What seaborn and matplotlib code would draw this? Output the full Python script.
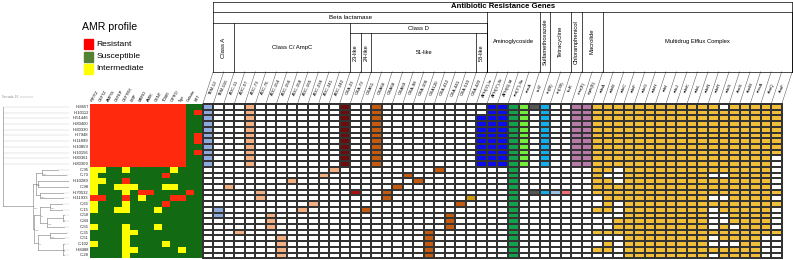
import numpy as np
import pandas as pd
import matplotlib.pyplot as plt
import seaborn as sns
from matplotlib.colors import ListedColormap
from matplotlib.patches import Rectangle

plt.rcParams["font.family"] = ["Liberation Sans", "DejaVu Sans"]

# ---- isolates (tree order, top to bottom) ----
isolates = ["H-8657", "H-10112", "H-51446", "H-80400", "H-80330", "H-7948", "H-11899",
            "H-10859", "H-10156", "H-80361", "H-80309", "C-95", "C-73", "H-10289", "C-98",
            "H-70532", "H-11933", "C-65", "C-15", "C-58", "C-84", "C-55", "C-35", "C-51",
            "C-102", "H-8488", "C-28"]

# ---- AMR phenotype: R resistant, S susceptible, I intermediate ----
drugs = ["PIP/TZ", "CEFTZ", "AMP/S", "CEFEP", "CEFTRX", "IMIP", "MERO",
         "AMIK", "GENT", "TOBR", "CIPRO", "Tige", "Colistin", "SXT"]
amr_profile = [
    "RRRRRRRRRRRRSS", "RRRRRRRRRRRRSR", "RRRRRRRRRRRRSS", "RRRRRRRRRRRRSS",
    "RRRRRRRRRRRRSS", "RRRRRRRRRRRRSR", "RRRRRRRRRRRRSR", "RRRRRRRRRRRRSS",
    "RRRRRRRRRRRRSR", "RRRRRRRRRRRRSS", "RRRRRRRRRRRRSS",
    "IISSISSSSSISSS", "ISSSSSSSSRSSSS", "IISSRSSSSSSSSS", "ISSIIISSSIISSS",
    "ISSSISRRSSSSRS", "RRSSRSISSSRRSS", "ISSSISSSSRSSSS", "ISSIISSSISSSSS",
    "SSSSSSSSSSSSSS", "SSSSSSSSSSSSSS", "ISSSISSSISSSSS", "SSSSIISSSSSSSS",
    "SSSSISSSSSSSSS", "ISSSISSSSISSSS", "SSSSIISSSSSISS", "SSSSISSSSSSSSS",
]

# ---- resistance genes ----
class_a = ["TEM-12", "TEM-116"]
class_c = ["ADC-11", "ADC-57", "ADC-73", "ADC-76", "ADC-154", "ADC-156", "ADC-158",
           "ADC-165", "ADC-238", "ADC-241", "ADC-242"]
like23 = ["OXA-23"]
like24 = ["OXA-72"]
like51 = ["OXA51", "OXA66", "OXA68", "OXA69", "OXA-98", "OXA-106", "OXA120",
          "OXA-412", "OXA-441", "OXA-510"]
like58 = ["OXA-420"]
aminoglycoside = ["APH(3')-Ia", "APH(3'')-Ib", "APH(6)-Id", "ant(3'')-IIa", "armA"]
sulfa = ["sul2"]
tetra = ["tet(B)", "tet(39)"]
chloram = ["floR"]
macrolide = ["msr(E)", "mph(E)"]
efflux = ["adeA", "adeB", "adeC", "adeF", "adeG", "adeH", "adeI", "adeJ", "adeK",
          "adeL", "adeN", "adeR", "adeS", "abeS", "abeM", "amvA", "abaQ", "abaF"]

R = list(range(11))
beta_hits = {
    "TEM-12": R, "TEM-116": [18, 19],
    "ADC-11": [14], "ADC-57": [22], "ADC-73": R, "ADC-76": [15, 16],
    "ADC-154": [19, 20, 21], "ADC-156": [23, 24, 25, 26], "ADC-158": [13],
    "ADC-165": [18], "ADC-238": [17], "ADC-241": [12], "ADC-242": [11],
    "OXA-23": R, "OXA-72": [15],
    "OXA51": [18], "OXA66": R, "OXA68": [15, 16], "OXA69": [14], "OXA-98": [12],
    "OXA-106": [13], "OXA120": [22, 23, 24, 25, 26], "OXA-412": [11],
    "OXA-441": [19, 20, 21], "OXA-510": [17], "OXA-420": [16],
}
amino_hits = {
    "APH(3')-Ia": list(range(2, 11)), "APH(3'')-Ib": R, "APH(6)-Id": R,
    "ant(3'')-IIa": list(range(27)), "armA": R,
}
other_hits = {
    "sul2": [0, 15], "tet(B)": R + [15], "tet(39)": [15], "floR": [15],
    "msr(E)": R, "mph(E)": R,
}
efflux_absent = {
    "adeA": [16, 17, 19, 20, 21, 23, 24, 26],
    "adeB": [12, 19, 20, 21, 23, 26],
    "adeC": [11, 12, 13, 17, 18, 19, 23, 24, 25, 26],
    "adeR": [12, 16, 18, 19, 20, 21, 23, 24, 26],
    "adeS": [0, 12, 16, 19, 20, 24],
    "abeS": [21, 24],
    "abaQ": [23, 24, 25, 26],
    "abaF": [9, 10, 11, 12, 13, 14, 16, 18, 19, 20, 21, 23, 24, 25, 26],
}

class_color = {
    "TEM": "#8EA9DB", "ADC": "#F4B183", "OXA23": "#6E0B0B", "OXA24": "#A80F0F",
    "OXA51": "#C55A11", "OXA58": "#D09A10",
}
gene_color = {}
for g in class_a: gene_color[g] = class_color["TEM"]
for g in class_c: gene_color[g] = class_color["ADC"]
for g in like23: gene_color[g] = class_color["OXA23"]
for g in like24: gene_color[g] = class_color["OXA24"]
for g in like51: gene_color[g] = class_color["OXA51"]
for g in like58: gene_color[g] = class_color["OXA58"]
gene_color.update({"APH(3')-Ia": "#0B0BEE", "APH(3'')-Ib": "#0B0BEE", "APH(6)-Id": "#0B0BEE",
                   "ant(3'')-IIa": "#14A04C", "armA": "#74EE3A", "sul2": "#575757",
                   "tet(B)": "#14AEEB", "tet(39)": "#9DC3E6", "floR": "#F06E74",
                   "msr(E)": "#B77AA9", "mph(E)": "#B77AA9"})
for g in efflux: gene_color[g] = "#F0BE38"

# ---- tree: leaf = (name, tip), node = (support, depth, children) ----
tree = ("", 2.7, [
    ("H-8657", 3.3), ("H-10112", 3.3), ("H-51446", 3.3), ("H-80400", 3.3),
    ("H-80330", 3.3), ("H-7948", 3.3), ("H-11899", 3.3), ("H-10859", 3.3),
    ("H-10156", 3.3), ("H-80361", 3.3), ("H-80309", 3.3),
    ("0.89", 33, [
        ("0.92", 35.5, [
            ("0.61", 42, [("C-95", 58), ("C-73", 66)]),
            ("0.7", 37.5, [("H-10289", 68), ("C-98", 68)]),
            ("0.83", 40, [("H-70532", 63), ("H-11933", 63)]),
        ]),
        ("0.98", 34, [
            ("0.9", 40, [
                ("0.52", 50, [("C-65", 62), ("C-15", 62)]),
                ("0.86", 47, [("1", 63, [("C-58", 64), ("C-84", 64)]), ("C-55", 64)]),
            ]),
            ("0.7", 38, [
                ("0.93", 50, [("C-35", 66), ("C-51", 64)]),
                ("1", 63, [("C-102", 64), ("H-8488", 64), ("C-28", 64)]),
            ]),
        ]),
    ]),
])

# ---- figure ----
W, H = 793, 260
fig = plt.figure(figsize=(W / 100, H / 100), dpi=100)
ov = fig.add_axes([0, 0, 1, 1])
ov.set_xlim(0, W)
ov.set_ylim(H, 0)
ov.axis("off")

TOP, BOT = 104, 258.3
AMR_X0, AMR_X1 = 90, 201.7
G_X0, G_X1 = 202.7, 781.7
n_rows = len(isolates)
rh = (BOT - TOP) / n_rows


def px_axes(x0, x1):
    return fig.add_axes([x0 / W, 1 - BOT / H, (x1 - x0) / W, (BOT - TOP) / H])


# AMR heatmap
amr_code = {"R": 0, "S": 1, "I": 2}
amr = pd.DataFrame([[amr_code[c] for c in s] for s in amr_profile], index=isolates, columns=drugs)
ax_amr = px_axes(AMR_X0, AMR_X1)
sns.heatmap(amr, ax=ax_amr, cmap=ListedColormap(["#FF2A0D", "#126B12", "#FFFF00"]),
            vmin=-0.5, vmax=2.5, cbar=False, yticklabels=False, xticklabels=True)
ax_amr.xaxis.tick_top()
ax_amr.tick_params(axis="x", length=0, pad=0.8, labelsize=2.9)
for t in ax_amr.get_xticklabels():
    t.set_rotation(60)
    t.set_ha("left")
    t.set_rotation_mode("anchor")
ax_amr.set_xlabel("")
ax_amr.set_ylabel("")

# gene presence grid
genes = (class_a + class_c + like23 + like24 + like51 + like58 + aminoglycoside
         + sulfa + tetra + chloram + macrolide + efflux)
hits = {**beta_hits, **amino_hits, **other_hits}
for g in efflux:
    hits[g] = [i for i in range(n_rows) if i not in efflux_absent.get(g, [])]
palette = ["#FFFFFF"]
for g in genes:
    if gene_color[g] not in palette:
        palette.append(gene_color[g])
mat = np.zeros((n_rows, len(genes)), dtype=int)
for j, g in enumerate(genes):
    for i in hits.get(g, []):
        mat[i, j] = palette.index(gene_color[g])
gene_df = pd.DataFrame(mat, index=isolates, columns=genes)
ax_g = px_axes(G_X0, G_X1)
sns.heatmap(gene_df, ax=ax_g, cmap=ListedColormap(palette), vmin=-0.5,
            vmax=len(palette) - 0.5, cbar=False, xticklabels=False, yticklabels=False,
            linewidths=0.22, linecolor="#333333")
ax_g.collections[0].set_clip_on(False)
ax_g.set_xlabel("")
ax_g.set_ylabel("")

# slanted gene labels
w = (G_X1 - G_X0) / len(genes)
LAB_TOP = 71.7
for k, g in enumerate(genes + [None]):
    xb = G_X0 + k * w
    ov.plot([xb, xb + w], [TOP, LAB_TOP], color="#333333", lw=0.3)
    if g is not None:
        ov.text(xb + w, (TOP + LAB_TOP) / 2, g, rotation=65, ha="center", va="center",
                rotation_mode="anchor", fontsize=3.2)

# header table
HY = [1.7, 11.7, 23.3, 33.3, LAB_TOP]
ng = len(genes)


def hx(b):
    return G_X0 + (b + 1) * w


lc = dict(color="black", lw=0.5)
for y in (HY[0], HY[1], HY[4]):
    ov.plot([hx(0), hx(ng)], [y, y], **lc)
ov.plot([hx(0), hx(0)], [HY[0], HY[4]], **lc)
ov.plot([hx(ng), hx(ng)], [HY[0], HY[4]], **lc)
ov.text((hx(0) + hx(ng)) / 2, (HY[0] + HY[1]) / 2, "Antibiotic Resistance Genes",
        ha="center", va="center", fontsize=5.6, fontweight="bold")

n_beta = len(class_a + class_c + like23 + like24 + like51 + like58)
ov.plot([hx(0), hx(n_beta)], [HY[2], HY[2]], **lc)
ov.text((hx(0) + hx(n_beta)) / 2, (HY[1] + HY[2]) / 2, "Beta lactamase",
        ha="center", va="center", fontsize=4.5)

b = 0
for name, grp in [("Class A", class_a), ("Class C/ AmpC", class_c),
                  ("Class D", like23 + like24 + like51 + like58)]:
    b1 = b + len(grp)
    if name == "Class D":
        ov.plot([hx(b), hx(b1)], [HY[3], HY[3]], **lc)
        ov.text((hx(b) + hx(b1)) / 2, (HY[2] + HY[3]) / 2, name, ha="center",
                va="center", fontsize=4.3)
        s = b
        for sname, sg in [("23-like", like23), ("24-like", like24),
                          ("51-like", like51), ("58-like", like58)]:
            s1 = s + len(sg)
            ov.plot([hx(s1), hx(s1)], [HY[3], HY[4]], **lc)
            ov.text((hx(s) + hx(s1)) / 2, (HY[3] + HY[4]) / 2, sname, ha="center",
                    va="center", fontsize=4.1, rotation=90 if len(sg) <= 2 else 0)
            s = s1
    else:
        ov.text((hx(b) + hx(b1)) / 2, (HY[2] + HY[4]) / 2, name, ha="center",
                va="center", fontsize=4.3, rotation=90 if len(grp) <= 2 else 0)
    ov.plot([hx(b1), hx(b1)], [HY[2], HY[4]], **lc)
    b = b1

ov.plot([hx(b), hx(b)], [HY[1], HY[4]], **lc)
for name, grp in [("Aminoglycoside", aminoglycoside), ("Sulfamethoxazole", sulfa),
                  ("Tetracycline", tetra), ("Chloramphenicol", chloram),
                  ("Macrolide", macrolide), ("Multidrug Efflux Complex", efflux)]:
    b1 = b + len(grp)
    ov.plot([hx(b1), hx(b1)], [HY[1], HY[4]], **lc)
    ov.text((hx(b) + hx(b1)) / 2, (HY[1] + HY[4]) / 2, name, ha="center", va="center",
            fontsize=4.2, rotation=90 if len(grp) <= 2 else 0)
    b = b1

# tree
tree_lc = dict(color="#7A7A7A", lw=0.4)
leaf_i = [0]
leaf_names = []


def draw(node):
    if len(node) == 2:
        name, tip = node
        i = leaf_i[0]
        leaf_i[0] += 1
        leaf_names.append(name)
        y = TOP + (i + 0.5) * rh
        ov.plot([tip, 69], [y, y], color="#C8C8C8", lw=0.3)
        ov.text(88.5, y, name, ha="right", va="center", fontsize=3, color="#222222")
        return y, tip
    support, d, kids = node
    ys = []
    for kid in kids:
        ky, kx = draw(kid)
        ov.plot([d, kx], [ky, ky], **tree_lc)
        ys.append(ky)
    ov.plot([d, d], [ys[0], ys[-1]], **tree_lc)
    y = (ys[0] + ys[-1]) / 2
    if support:
        ov.text(d + 0.6, y + 2.4, support, fontsize=1.6, color="#888888")
    return y, d


draw(tree)
assert leaf_names == isolates

ov.text(2, 97, "Tree scale: 0.1", fontsize=1.8, color="#777777", va="center")
ov.plot([20, 33], [97, 97], color="#999999", lw=0.3)

# legend
ov.text(82, 27, "AMR profile", fontsize=7.6, va="center", ha="left")
for y, lab, col in [(44, "Resistant", "#FF0000"), (57, "Susceptible", "#548235"),
                    (69, "Intermediate", "#FFFF00")]:
    ov.add_patch(Rectangle((84, y - 4.8), 9, 9.6, color=col))
    ov.text(96.5, y, lab, fontsize=6.1, va="center", ha="left")

fig.savefig("out.png", dpi=100)
